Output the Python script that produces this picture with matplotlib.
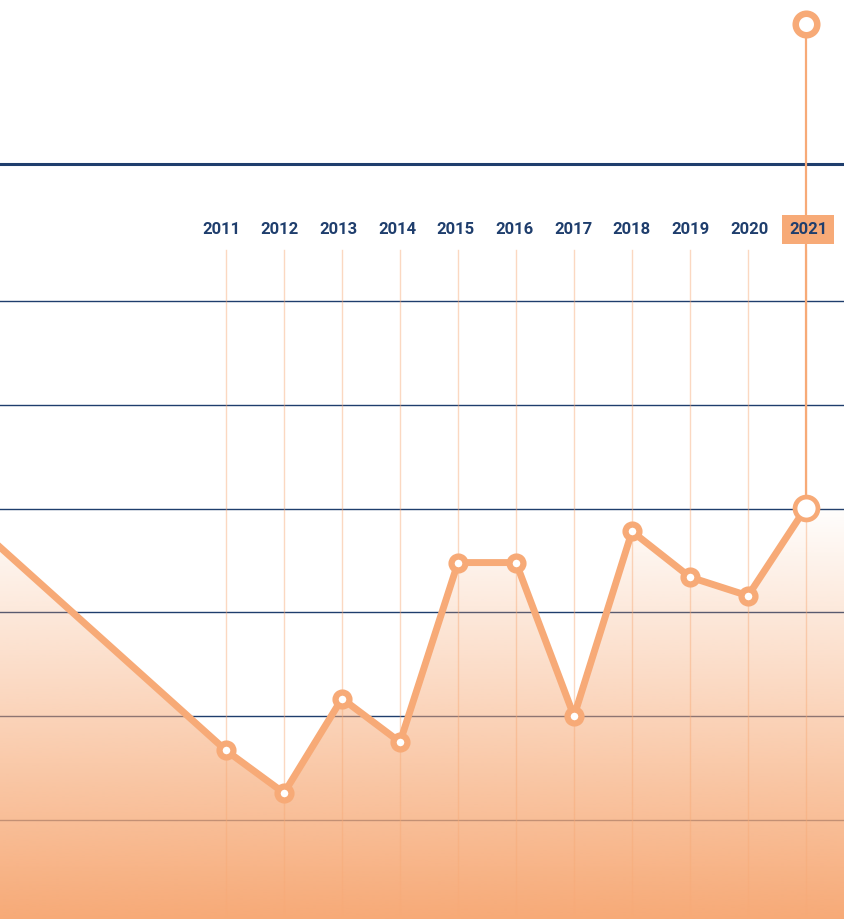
import numpy as np
import matplotlib.pyplot as plt
from matplotlib.patches import Polygon

# data (the first point sits off the left edge of the canvas)
lead_year = 2007
lead_value = 26.8
years = [2011, 2012, 2013, 2014, 2015, 2016, 2017, 2018, 2019, 2020, 2021]
values = [6.7, 2.6, 11.7, 7.5, 24.8, 24.8, 10.0, 27.8, 23.4, 21.6, 30.1]
year_labels = [str(y) for y in years]
grid_levels = [0, 10, 20, 30, 40, 50]

NAVY = "#1f3e6d"
ORANGE = "#f7aa77"

X_MIN, X_MAX = 2007.103, 2021.655
Y_MIN, Y_MAX = -9.54, 79.0

fig = plt.figure(figsize=(8.44, 9.19), dpi=100)
ax = fig.add_axes([0, 0, 1, 1])
ax.axis("off")

# horizontal guides
for g in grid_levels:
    ax.axhline(g, color=NAVY, lw=1.0, zorder=1)
ax.axhline(63.2, color=NAVY, lw=2.2, zorder=1)

# gradient fill under the line
xs = [lead_year] + years + [X_MAX + 1, X_MAX + 1, lead_year]
ys = [lead_value] + values + [values[-1], Y_MIN - 1, Y_MIN - 1]
poly = Polygon(np.column_stack([xs, ys]), closed=True, fc="none", ec="none")
ax.add_patch(poly)
top = 30.8
img = np.zeros((256, 1, 4))
img[..., 0] = 247 / 255
img[..., 1] = 170 / 255
img[..., 2] = 119 / 255
img[..., 3] = np.linspace(1, 0, 256)[:, None]
im = ax.imshow(img, extent=[X_MIN, X_MAX, Y_MIN, top], aspect="auto",
               origin="lower", zorder=2, interpolation="bilinear")
im.set_clip_path(poly)
ax.set_xlim(X_MIN, X_MAX)
ax.set_ylim(Y_MIN, Y_MAX)

# vertical year guides
for y in years:
    ax.plot([y, y], [Y_MIN, 54.9], color=ORANGE, lw=1.0, alpha=0.45, zorder=3)

# highlighted 2021 guide
ax.plot([years[-1], years[-1]], [values[-1], 76.7], color=ORANGE, lw=1.6, zorder=3.5)
ax.plot([years[-1]], [76.7], "o", ms=15.5, mfc="white", mec=ORANGE, mew=4.7, zorder=6)

# main line
ax.plot([lead_year] + years, [lead_value] + values, color=ORANGE, lw=5,
        solid_joinstyle="round", zorder=4)
ax.plot(years[:-1], values[:-1], "o", ms=10, mfc="white", mec=ORANGE, mew=4.5, zorder=5)
ax.plot([years[-1]], [values[-1]], "o", ms=16.5, mfc="white", mec=ORANGE, mew=3.4, zorder=5)

# year labels (slightly wider pitch than the columns)
for i, (y, lab) in enumerate(zip(years, year_labels)):
    kw = {}
    if y == years[-1]:
        kw["bbox"] = dict(boxstyle="square,pad=0.4", fc=ORANGE, ec="none")
    lx = years[0] + (-5 + i * 58.7) / 58
    ax.text(lx, 56.9, lab, ha="center", va="center", color=NAVY,
            fontsize=12, fontweight="bold", family="Roboto", zorder=7, **kw)

fig.savefig("out.png", dpi=100)
